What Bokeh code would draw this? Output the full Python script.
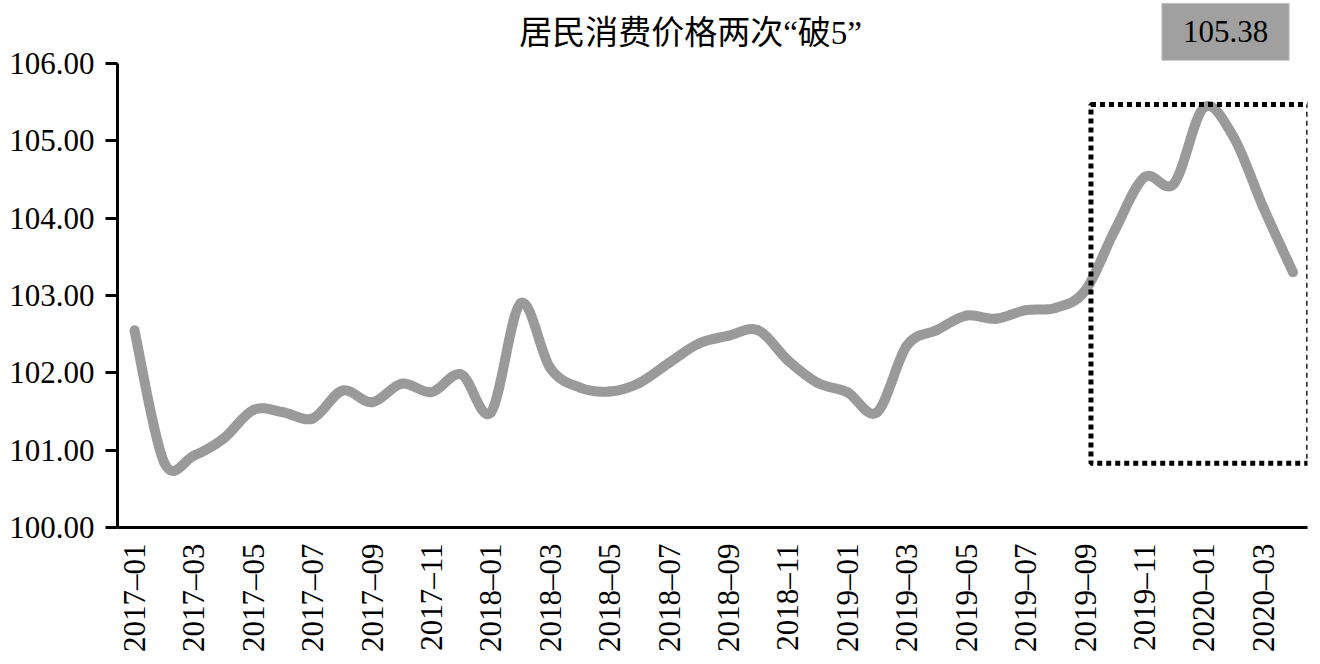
import math
from bokeh.plotting import figure
from bokeh.models import Label, BoxAnnotation, FixedTicker, NumeralTickFormatter, Range1d
from bokeh.embed import file_html
from bokeh.resources import INLINE

# ---- data ----
months = [
    "2017–01", "2017–02", "2017–03", "2017–04", "2017–05", "2017–06",
    "2017–07", "2017–08", "2017–09", "2017–10", "2017–11", "2017–12",
    "2018–01", "2018–02", "2018–03", "2018–04", "2018–05", "2018–06",
    "2018–07", "2018–08", "2018–09", "2018–10", "2018–11", "2018–12",
    "2019–01", "2019–02", "2019–03", "2019–04", "2019–05", "2019–06",
    "2019–07", "2019–08", "2019–09", "2019–10", "2019–11", "2019–12",
    "2020–01", "2020–02", "2020–03", "2020–04",
]
cpi = [
    102.55, 100.84, 100.93, 101.15, 101.52, 101.49,
    101.41, 101.77, 101.62, 101.86, 101.75, 101.98,
    101.49, 102.90, 102.06, 101.81, 101.76, 101.87,
    102.13, 102.38, 102.48, 102.55, 102.16, 101.87,
    101.75, 101.49, 102.35, 102.55, 102.74, 102.70,
    102.81, 102.84, 103.06, 103.84, 104.53, 104.45,
    105.43, 105.05, 104.14, 103.30,
]
y_ticks = [100, 101, 102, 103, 104, 105, 106]
title_text = "居民消费价格两次“破5”"
peak_text = "105.38"

SERIF = "Liberation Serif"
LINE_COLOR = "#9a9a9a"

n = len(cpi)
xs = list(range(n))

p = figure(
    width=1312, height=656,
    output_backend="svg", toolbar_location=None,
    x_range=Range1d(-0.572, 39.49), y_range=Range1d(100, 106.815),
    min_border_left=117, min_border_right=5,
    min_border_top=0, min_border_bottom=129,
)
p.outline_line_color = None
p.xgrid.grid_line_color = None
p.ygrid.grid_line_color = None
p.background_fill_color = "white"
p.border_fill_color = "white"

# smoothed line (Catmull-Rom style bezier segments through the data points)
x0s, y0s, x1s, y1s, cx0s, cy0s, cx1s, cy1s = [], [], [], [], [], [], [], []
for i in range(n - 1):
    xp, yp = xs[max(i - 1, 0)], cpi[max(i - 1, 0)]
    xa, ya = xs[i], cpi[i]
    xb, yb = xs[i + 1], cpi[i + 1]
    xn, yn = xs[min(i + 2, n - 1)], cpi[min(i + 2, n - 1)]
    x0s.append(xa); y0s.append(ya)
    x1s.append(xb); y1s.append(yb)
    cx0s.append(xa + (xb - xp) / 6.0); cy0s.append(ya + (yb - yp) / 6.0)
    cx1s.append(xb - (xn - xa) / 6.0); cy1s.append(yb - (yn - ya) / 6.0)

p.bezier(x0=x0s, y0=y0s, x1=x1s, y1=y1s, cx0=cx0s, cy0=cy0s, cx1=cx1s, cy1=cy1s,
         line_color=LINE_COLOR, line_width=10, line_cap="round")

# dotted highlight box
p.add_layout(BoxAnnotation(left=32.2, right=39.53, bottom=100.83, top=105.47,
                           fill_alpha=0, fill_color=None,
                           line_color="black", line_alpha=1.0,
                           line_width=5, line_dash="5 4"))

# axes
xa = p.xaxis[0]
xa.ticker = FixedTicker(ticks=xs[::2])
xa.major_label_overrides = {i: months[i] for i in xs[::2]}
xa.major_label_orientation = math.pi / 2
xa.major_tick_out = 0
xa.major_tick_in = 0
xa.minor_tick_out = 0
xa.minor_tick_in = 0
xa.axis_line_width = 3
xa.axis_line_color = "black"
xa.major_label_text_font = SERIF
xa.major_label_text_font_size = "31px"
xa.major_label_text_color = "black"
xa.major_label_standoff = 16

ya_ = p.yaxis[0]
ya_.bounds = (100, 106)
ya_.ticker = FixedTicker(ticks=y_ticks)
ya_.formatter = NumeralTickFormatter(format="0.00")
ya_.major_tick_out = 12
ya_.major_tick_in = 0
ya_.major_tick_line_width = 3
ya_.minor_tick_out = 0
ya_.minor_tick_in = 0
ya_.axis_line_width = 3
ya_.axis_line_color = "black"
ya_.major_label_text_font = SERIF
ya_.major_label_text_font_size = "31px"
ya_.major_label_text_color = "black"
ya_.major_label_standoff = 11

# title
p.add_layout(Label(x=18.72, y=106.39, text=title_text,
                   text_font=SERIF + ", Noto Sans CJK SC",
                   text_font_size="33px", text_color="black",
                   text_align="center", text_baseline="middle"))

# peak value tag
p.add_layout(Label(x=36.73, y=106.41, text=peak_text,
                   text_font=SERIF, text_font_size="31px", text_color="black",
                   text_align="center", text_baseline="middle",
                   background_fill_color="#a0a0a0",
                   border_line_color="#c4c4c4", border_line_width=1,
                   padding=dict(left=21, right=21, top=18, bottom=18)))

open("out.html", "w").write(file_html(p, INLINE))
